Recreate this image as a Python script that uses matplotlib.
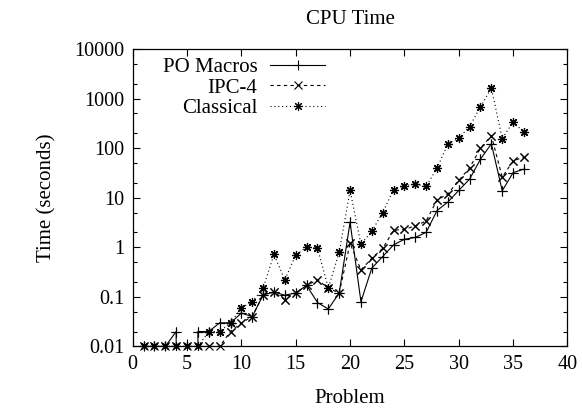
import numpy as np
import matplotlib
matplotlib.use('Agg')
import matplotlib.pyplot as plt
from matplotlib.ticker import FixedLocator, FuncFormatter, LogLocator, NullFormatter

plt.rcParams['font.family'] = ['Liberation Serif', 'DejaVu Serif']
plt.rcParams['font.size'] = 15

# problem numbers
problems = np.arange(1, 37)

# CPU time (seconds)
po_macros = [0.01, 0.01, 0.01, 0.02, 0.0, 0.02, 0.02, 0.03, 0.03, 0.047,
             0.04, 0.11, 0.125, 0.108, 0.12, 0.17, 0.077, 0.057, 0.12, 3.2,
             0.08, 0.38, 0.65, 1.12, 1.45, 1.58, 2.0, 5.5, 8.2, 14.0,
             23.7, 60.0, 122.0, 13.8, 32.0, 37.7]
ipc4 = [0.01, 0.01, 0.01, 0.01, 0.01, 0.01, 0.01, 0.01, 0.02, 0.03,
        0.04, 0.11, 0.125, 0.088, 0.12, 0.17, 0.22, 0.15, 0.12, 1.2,
        0.35, 0.6, 0.95, 2.2, 2.3, 2.7, 3.4, 9.0, 11.9, 22.3,
        40.0, 100.0, 177.0, 26.0, 55.0, 66.0]
classical = [0.01, 0.01, 0.01, 0.01, 0.01, 0.01, 0.02, 0.02, 0.03, 0.06,
             0.08, 0.15, 0.72, 0.22, 0.7, 1.0, 0.97, 0.15, 0.8, 14.0,
             1.15, 2.1, 5.0, 14.5, 17.4, 18.8, 17.0, 39.5, 122.0, 158.0,
             272.0, 680.0, 1620.0, 155.0, 337.0, 208.0]

labels = ['PO Macros', 'IPC-4', 'Classical']
y_ticks = [0.01, 0.1, 1, 10, 100, 1000, 10000]
x_ticks = [0, 5, 10, 15, 20, 25, 30, 35, 40]

fig = plt.figure(figsize=(5.82, 4.11), dpi=100)
ax = fig.add_axes([0.228, 0.157, 0.747, 0.724])

styles = [
    dict(marker='+', linestyle='-', ms=7),
    dict(marker='x', linestyle=(0, (3, 3)), ms=5.5),
    dict(marker=(8, 2, 0), linestyle=(0, (1, 2.5)), ms=6.5),
]
series = [po_macros, ipc4, classical]

for vals, lab, st in zip(series, labels, styles):
    vals = np.array(vals)
    ax.plot(problems, vals, color='black', lw=0.8, label=lab,
            marker=st['marker'], ms=st['ms'], mew=0.8,
            linestyle=st['linestyle'])
    # markers on the bottom edge drawn whole, like gnuplot
    pos = np.ma.masked_where(vals <= 0, vals)
    ax.plot(problems, pos, color='black', linestyle='none',
            marker=st['marker'], ms=st['ms'], mew=0.8, clip_on=False)

ax.set_yscale('log')
ax.set_xlim(0, 40)
ax.set_ylim(0.01, 10000)
ax.xaxis.set_major_locator(FixedLocator(x_ticks))
ax.yaxis.set_major_locator(FixedLocator(y_ticks))
ax.yaxis.set_major_formatter(FuncFormatter(lambda v, p: '%g' % v))
ax.yaxis.set_minor_locator(LogLocator(base=10, subs=(2, 5), numticks=20))
ax.yaxis.set_minor_formatter(NullFormatter())

ax.tick_params(which='both', direction='in', top=True, right=True,
               width=0.8, labelsize=14.5, pad=6)
ax.tick_params(which='major', length=5)
ax.tick_params(which='minor', length=3)
for s in ax.spines.values():
    s.set_linewidth(0.9)

ax.set_title('CPU Time', fontsize=15, pad=18)
ax.set_xlabel('Problem', fontsize=15, labelpad=11)
ax.set_ylabel('Time (seconds)', fontsize=15, labelpad=13)

ax.legend(loc='upper right', bbox_to_anchor=(0.462, 1.0), markerfirst=False,
          frameon=False, handlelength=2.65, handletextpad=0.6,
          labelspacing=0.06, fontsize=15, borderaxespad=0.0)

fig.savefig('out.png', dpi=100)
